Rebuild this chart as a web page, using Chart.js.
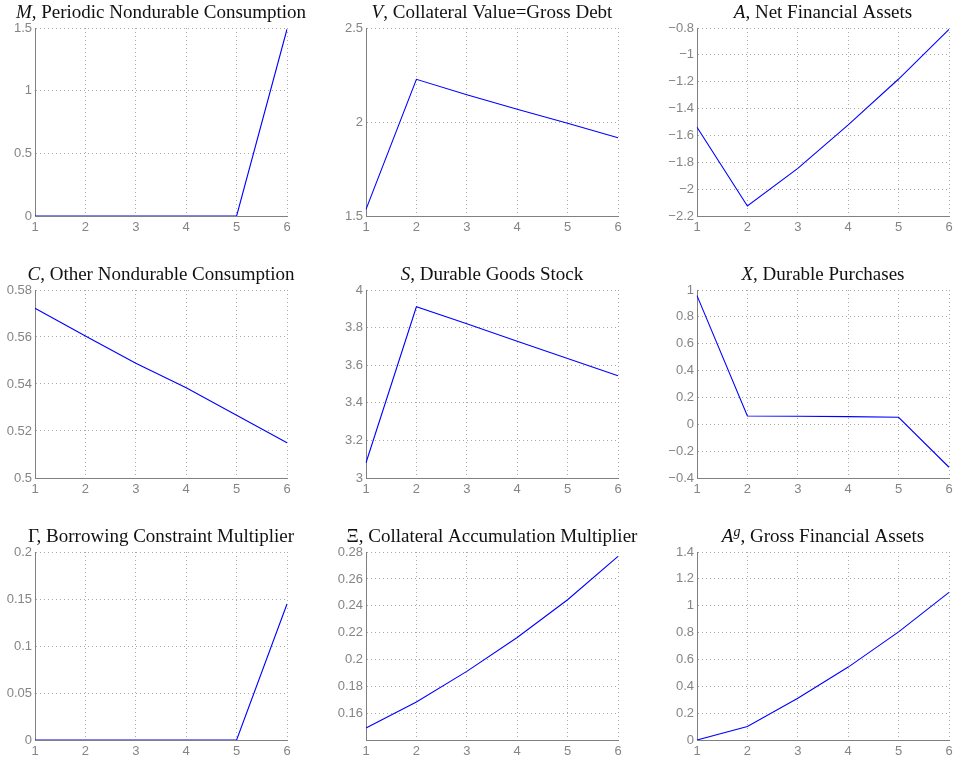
<!DOCTYPE html>
<html>
<head>
<meta charset="utf-8">
<script src="https://cdn.jsdelivr.net/npm/chart.js"></script>
<style>
body { margin: 0; background: #ffffff; }
#wrap { position: relative; width: 973px; height: 765px; }
#wrap canvas { position: absolute; }
</style>
</head>
<body>
<div id="wrap"></div>
<script>
// periods on the horizontal axis
var periods = [1, 2, 3, 4, 5, 6];

// series
var periodicConsumption = [0, 0, 0, 0, 0, 1.49];
var collateralValue = [1.535, 2.227, 2.145, 2.068, 1.993, 1.916];
var netAssets = [-1.539, -2.126, -1.845, -1.522, -1.18, -0.81];
var otherConsumption = [0.5722, 0.5604, 0.5488, 0.5384, 0.5267, 0.515];
var durableStock = [3.081, 3.911, 3.82, 3.727, 3.636, 3.544];
var durablePurchases = [0.958, 0.062, 0.06, 0.057, 0.052, -0.32];
var borrowingMultiplier = [0, 0, 0, 0, 0, 0.1447];
var collateralMultiplier = [0.1494, 0.1687, 0.1914, 0.2166, 0.2446, 0.2767];
var grossAssets = [0, 0.101, 0.311, 0.543, 0.805, 1.099];

// y tick labels
var ticksM = [0, 0.5, 1, 1.5];
var ticksV = [1.5, 2, 2.5];
var ticksA = [-2.2, -2, -1.8, -1.6, -1.4, -1.2, -1, -0.8];
var ticksC = [0.5, 0.52, 0.54, 0.56, 0.58];
var ticksS = [3, 3.2, 3.4, 3.6, 3.8, 4];
var ticksX = [-0.4, -0.2, 0, 0.2, 0.4, 0.6, 0.8, 1];
var ticksGamma = [0, 0.05, 0.1, 0.15, 0.2];
var ticksXi = [0.16, 0.18, 0.2, 0.22, 0.24, 0.26, 0.28];
var ticksAg = [0, 0.2, 0.4, 0.6, 0.8, 1, 1.2, 1.4];

// titles: [text, style]  i = italic, s = italic superscript
var titleM = [['M', 'i'], [', Periodic Nondurable Consumption', '']];
var titleV = [['V', 'i'], [', Collateral Value=Gross Debt', '']];
var titleA = [['A', 'i'], [', Net Financial Assets', '']];
var titleC = [['C', 'i'], [', Other Nondurable Consumption', '']];
var titleS = [['S', 'i'], [', Durable Goods Stock', '']];
var titleX = [['X', 'i'], [', Durable Purchases', '']];
var titleGamma = [['\u0393, Borrowing Constraint Multiplier', '']];
var titleXi = [['\u039E, Collateral Accumulation Multiplier', '']];
var titleAg = [['A', 'i'], ['g', 's'], [', Gross Financial Assets', '']];

var colLeft = [35, 366, 697];
var rowTop = [28, 290, 552];
var plotW = 252;
var plotH = 188;
var yAxisW = 40;
var titleSpace = 30;
var xAxisH = 24;
var rightPad = 40;

var panels = [
    { data: periodicConsumption, ticks: ticksM, min: 0, max: 1.5, title: titleM },
    { data: collateralValue, ticks: ticksV, min: 1.5, max: 2.5, title: titleV },
    { data: netAssets, ticks: ticksA, min: -2.2, max: -0.8, title: titleA },
    { data: otherConsumption, ticks: ticksC, min: 0.5, max: 0.58, title: titleC },
    { data: durableStock, ticks: ticksS, min: 3, max: 4, title: titleS },
    { data: durablePurchases, ticks: ticksX, min: -0.4, max: 1, title: titleX },
    { data: borrowingMultiplier, ticks: ticksGamma, min: 0, max: 0.2, title: titleGamma },
    { data: collateralMultiplier, ticks: ticksXi, min: 0.1405, max: 0.28, title: titleXi },
    { data: grossAssets, ticks: ticksAg, min: 0, max: 1.4, title: titleAg }
];

function titleFont(style) {
    if (style == 'i') return 'italic 19px "Liberation Serif"';
    if (style == 's') return 'italic 14px "Liberation Serif"';
    return '19px "Liberation Serif"';
}

var mathTitle = {
    id: 'mathTitle',
    afterDraw: function(chart) {
        var parts = chart.options.plugins.mathTitle.parts;
        var ctx = chart.ctx;
        var area = chart.chartArea;
        var total = 0;
        for (var i = 0; i < parts.length; i++) {
            ctx.font = titleFont(parts[i][1]);
            total += ctx.measureText(parts[i][0]).width;
        }
        var x = (area.left + area.right) / 2 - total / 2;
        var y = area.top - 10;
        ctx.save();
        ctx.fillStyle = '#111111';
        ctx.textBaseline = 'alphabetic';
        ctx.textAlign = 'left';
        for (i = 0; i < parts.length; i++) {
            ctx.font = titleFont(parts[i][1]);
            var dy = parts[i][1] == 's' ? -6 : 0;
            ctx.fillText(parts[i][0], x, y + dy);
            x += ctx.measureText(parts[i][0]).width;
        }
        ctx.restore();
    }
};

function formatTick(v) {
    var s = String(Math.round(v * 1000) / 1000);
    return s.replace('-', '\u2212');
}

function drawPanel(panel, idx) {
    var col = idx % 3;
    var row = Math.floor(idx / 3);
    var canvas = document.createElement('canvas');
    canvas.width = yAxisW + plotW + rightPad;
    canvas.height = titleSpace + plotH + xAxisH;
    canvas.style.left = (colLeft[col] - yAxisW) + 'px';
    canvas.style.top = (rowTop[row] - titleSpace) + 'px';
    document.getElementById('wrap').appendChild(canvas);

    var yTicks = panel.ticks;

    return new Chart(canvas, {
        type: 'line',
        data: {
            labels: periods,
            datasets: [{
                data: panel.data,
                borderColor: '#0000ff',
                borderWidth: 1.1,
                pointRadius: 0,
                tension: 0,
                fill: false
            }]
        },
        options: {
            responsive: false,
            animation: false,
            layout: { padding: { top: titleSpace, right: rightPad, left: 0, bottom: 0 } },
            plugins: {
                legend: { display: false },
                tooltip: { enabled: false },
                mathTitle: { parts: panel.title }
            },
            scales: {
                x: {
                    type: 'category',
                    offset: false,
                    grid: { color: '#a8a8a8', drawTicks: false, lineWidth: 1 },
                    border: { display: true, color: '#808080', width: 1, dash: [1, 3] },
                    ticks: {
                        color: '#858585',
                        font: { family: '"Liberation Sans", Arial', size: 13 },
                        padding: 4,
                        maxRotation: 0,
                        autoSkip: false
                    },
                    afterFit: function(scale) { scale.height = xAxisH; }
                },
                y: {
                    type: 'linear',
                    min: panel.min,
                    max: panel.max,
                    grid: { color: '#a8a8a8', drawTicks: false, lineWidth: 1 },
                    border: { display: true, color: '#808080', width: 1, dash: [1, 3] },
                    ticks: {
                        color: '#858585',
                        font: { family: '"Liberation Sans", Arial', size: 13 },
                        padding: 3,
                        callback: function(v) { return formatTick(v); }
                    },
                    afterBuildTicks: function(scale) {
                        scale.ticks = yTicks.map(function(v) { return { value: v }; });
                    },
                    afterFit: function(scale) { scale.width = yAxisW; }
                }
            }
        },
        plugins: [mathTitle]
    });
}

for (var i = 0; i < panels.length; i++) {
    drawPanel(panels[i], i);
}
</script>
</body>
</html>
